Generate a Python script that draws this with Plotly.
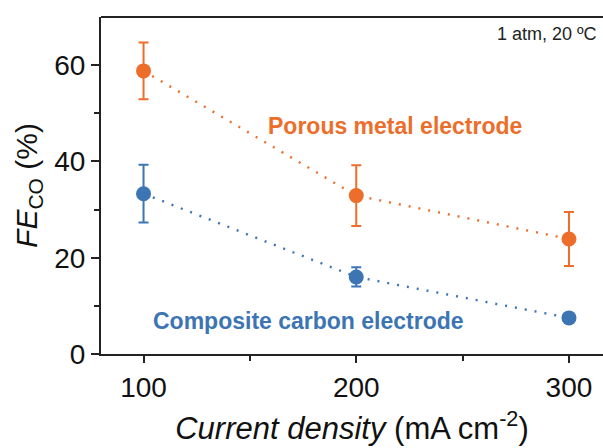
import plotly.graph_objects as go

current_density = [100, 200, 300]
fe_porous = [58.8, 32.9, 23.9]
err_porous = [5.9, 6.3, 5.6]
fe_composite = [33.3, 16.0, 7.5]
err_composite = [6.0, 2.0, 0.4]

orange = "#EC6E2A"
blue = "#3C74B4"
FONT = "Liberation Sans, Arial"

fig = go.Figure()
for y, e, c in [(fe_porous, err_porous, orange), (fe_composite, err_composite, blue)]:
    fig.add_trace(go.Scatter(
        x=current_density, y=y, mode="lines+markers",
        line=dict(color=c, width=2.4, dash="2px,8px"),
        marker=dict(color=c, size=15),
        error_y=dict(type="data", array=e, visible=True, color=c, thickness=2, width=5),
        showlegend=False, cliponaxis=False,
    ))

fig.add_annotation(x=218, y=47.4, xref="x", yref="y", text="<b>Porous metal electrode</b>",
                   showarrow=False, font=dict(family=FONT, size=23, color=orange))
fig.add_annotation(x=177.4, y=6.8, xref="x", yref="y", text="<b>Composite carbon electrode</b>",
                   showarrow=False, font=dict(family=FONT, size=23, color=blue))
fig.add_annotation(x=1, y=1, xref="paper", yref="paper", xanchor="right", yanchor="top",
                   xshift=-4, yshift=-5, text="1 atm, 20 ºC", showarrow=False,
                   font=dict(family=FONT, size=18, color="#222"))

fig.add_shape(type="line", xref="paper", yref="paper", x0=0, x1=1, y0=1, y1=1,
              line=dict(color="#222", width=2))

fig.update_layout(
    width=603, height=448,
    margin=dict(l=101, r=0, t=17, b=94, autoexpand=False),
    paper_bgcolor="white", plot_bgcolor="white",
    font=dict(family=FONT, size=28, color="#111"),
    xaxis=dict(range=[80, 316], tickvals=current_density, ticks="outside", ticklen=7, tickwidth=2,
               tickcolor="#222", showline=True, linecolor="#222", linewidth=2, showgrid=False,
               zeroline=False, automargin=False,
               minor=dict(tickvals=[150, 250], ticks="outside", ticklen=5, tickwidth=2, tickcolor="#222"),
               title=dict(text="<i>Current density</i> (mA cm<sup>-2</sup>)", standoff=16,
                          font=dict(size=31))),
    yaxis=dict(range=[0, 70], tickvals=[0, 20, 40, 60], ticks="outside", ticklen=8, tickwidth=2,
               tickcolor="#222", showline=True, linecolor="#222", linewidth=2, showgrid=False,
               zeroline=False, automargin=False,
               minor=dict(tickvals=[10, 30, 50], ticks="outside", ticklen=5, tickwidth=2, tickcolor="#222"),
               title=dict(text="<i>FE</i><sub>CO</sub> (%)", standoff=8, font=dict(size=30))),
)

fig.write_html("out.html", config={"displayModeBar": False},
               post_script="document.body.style.margin='0';")
